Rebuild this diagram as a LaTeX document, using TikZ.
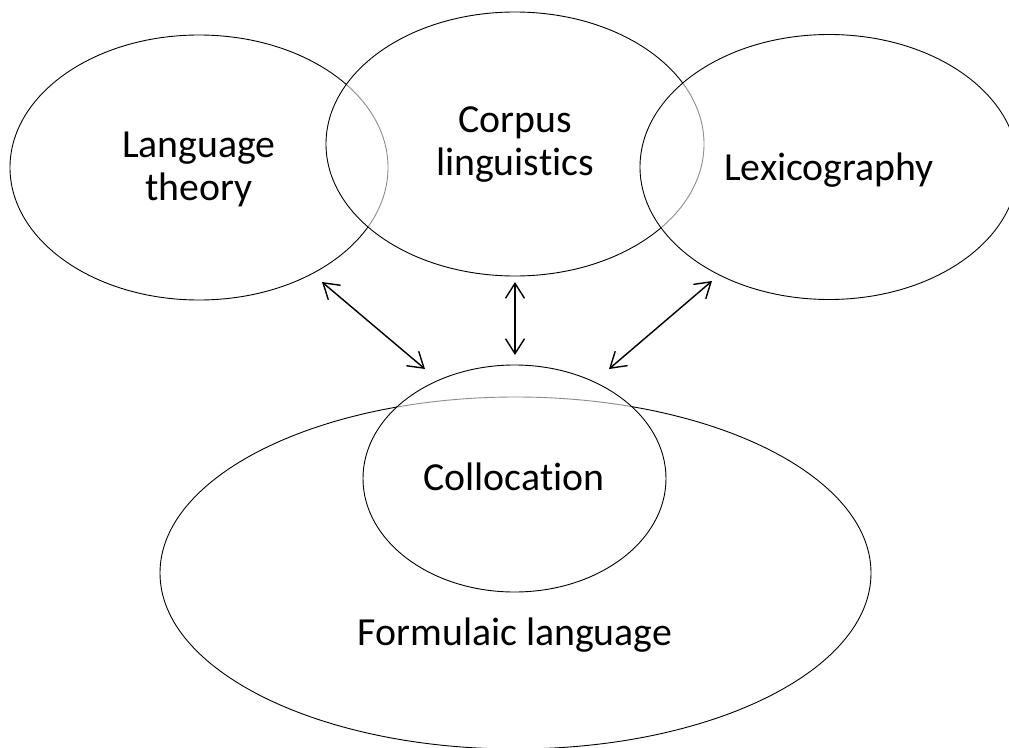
\documentclass[tikz,border=0pt]{standalone}
\usepackage{fontspec}
\setmainfont{Carlito}[Ligatures={NoCommon,NoRare}]
\usetikzlibrary{shapes.geometric,arrows.meta}
\begin{document}
\begin{tikzpicture}[x=1bp,y=-1bp,
  circ/.style={ellipse,draw=black,line width=0.9bp,fill=white,fill opacity=0.55,draw opacity=1,text opacity=1,inner sep=0pt},
  lbl/.style={font=\fontsize{39.8bp}{43bp}\selectfont,align=center,inner sep=0pt,anchor=base},
  link/.style={line width=1.4bp,{Straight Barb[length=15bp,width=19bp]}-{Straight Barb[length=15bp,width=19bp]}}]
\useasboundingbox (0,0) rectangle (1009,748);
\node[circ,minimum width=378bp,minimum height=265bp] (lang) at (199,167.5) {};
\node[circ,minimum width=378bp,minimum height=264bp] (corp) at (515,144) {};
\node[circ,minimum width=378bp,minimum height=265bp] (lex) at (829,167) {};
\node[circ,minimum width=711bp,minimum height=352bp] (form) at (515.5,573) {};
\node[circ,minimum width=303bp,minimum height=227bp] (coll) at (514.5,478.5) {};
\node[lbl] (tlang) at (199,200) {Language\\theory};
\node[lbl] (tcorp) at (515,175) {Corpus\\linguistics};
\node[lbl] (tlex) at (829,180) {Lexicography};
\node[lbl] (tcoll) at (514,490) {Collocation};
\node[lbl] (tform) at (515,645) {Formulaic language};
\coordinate (a1) at (322,282);
\coordinate (b1) at (425,369);
\coordinate (a2) at (515,282);
\coordinate (b2) at (515,355);
\coordinate (a3) at (712,281);
\coordinate (b3) at (609,369);
\draw[link] (a1) -- (b1);
\draw[link] (a2) -- (b2);
\draw[link] (a3) -- (b3);
\end{tikzpicture}
\end{document}
